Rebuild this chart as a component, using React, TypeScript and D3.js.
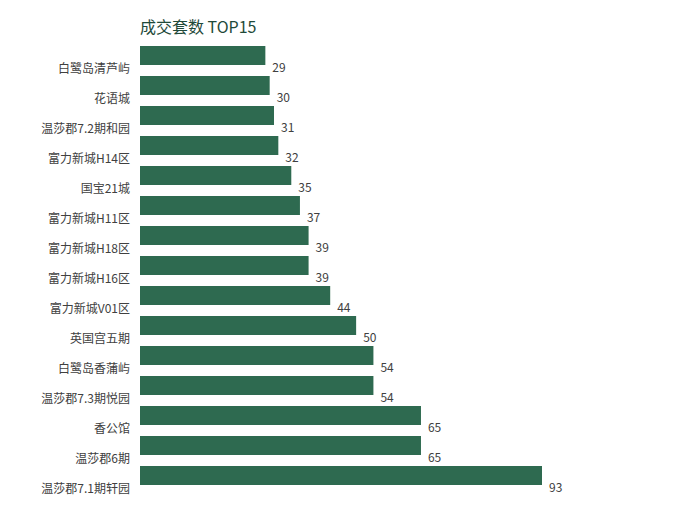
import * as React from 'react';
import * as d3 from 'd3';

const categories = [
  '白鹭岛清芦屿', '花语城', '温莎郡7.2期和园', '富力新城H14区', '国宝21城',
  '富力新城H11区', '富力新城H18区', '富力新城H16区', '富力新城V01区', '英国宫五期',
  '白鹭岛香蒲屿', '温莎郡7.3期悦园', '香公馆', '温莎郡6期', '温莎郡7.1期轩园',
];
const counts = [29, 30, 31, 32, 35, 37, 39, 39, 44, 50, 54, 54, 65, 65, 93];

const width = 680;
const height = 520;
const font = '"Noto Sans CJK SC", "Noto Sans", sans-serif';
const barColor = '#2e6a50';

const App = () => {
  const y = d3.scaleBand<string>()
    .domain(categories)
    .range([46, 46 + categories.length * 30])
    .padding(0);

  const x = d3.scaleLinear()
    .domain([0, d3.max(counts) as number])
    .range([140, 542]);

  const barH = 19;

  return (
    <svg width={width} height={height} style={{display: 'block', margin: '-8px 0 0 -8px'}} fontFamily={font}>
      <text x={140} y={33} fontSize={16} fill="#1f4a3a">成交套数 TOP15</text>
      {categories.map((c, i) => {
        const top = y(c) as number;
        return (
          <g key={c}>
            <rect x={x(0)} y={top} width={x(counts[i]) - x(0)} height={barH} fill={barColor} />
            <text x={130} y={top + 26.5} fontSize={12} fill="#404040" textAnchor="end">{c}</text>
            <text x={x(counts[i]) + 7} y={top + 26} fontSize={12} fill="#404040">{counts[i]}</text>
          </g>
        );
      })}
    </svg>
  );
};

export default App;
